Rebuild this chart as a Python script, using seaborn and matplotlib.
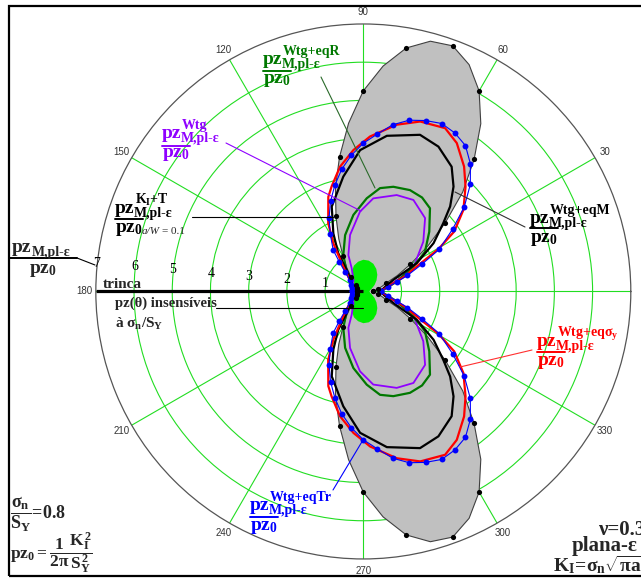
import numpy as np
import matplotlib
matplotlib.use("Agg")
import matplotlib.pyplot as plt
import seaborn as sns
from matplotlib.lines import Line2D
from matplotlib.patches import Rectangle

# ---------------- data (upper half, angle in degrees, radius in pz0 units) -------------
# K_I+T, a/W = 0.1  (grey filled zone, black dots every 10 deg)
th_kt = [0, 5, 10, 15, 20, 25, 30, 35, 40, 45, 50, 55, 60, 65, 70, 75, 80, 85, 90,
         95, 100, 105, 110, 115, 120, 125, 130, 135, 140, 145, 150, 155, 160, 165, 170, 175, 180]
r_kt = [0.26, 0.32, 0.40, 0.50, 0.64, 0.98, 1.42, 2.05, 2.80, 3.68, 4.51, 5.36, 6.06, 6.55, 6.84, 6.78,
        6.47, 5.92, 5.25, 4.42, 3.58, 2.82, 2.09, 1.52, 1.06, 0.75, 0.51, 0.36, 0.26, 0.22, 0.20, 0.19,
        0.18, 0.17, 0.17, 0.17, 0.17]

# Wtg+eqTr (blue, dotted markers)
th_tr = [0, 11, 16, 20, 25, 29, 35, 40, 45, 50, 55, 60, 65, 70, 75, 80, 85, 90, 95, 100, 105,
         110, 115, 120, 126, 129, 133, 139, 150, 165, 180]
r_tr = [0.45, 0.67, 0.92, 1.23, 1.70, 2.27, 2.86, 3.45, 3.96, 4.36, 4.66, 4.79, 4.85, 4.76, 4.64,
        4.43, 4.13, 3.88, 3.58, 3.25, 2.88, 2.51, 2.12, 1.73, 1.34, 1.00, 0.71, 0.46, 0.36, 0.32, 0.30]

# Wtg+eq sigma_y (red)
th_sy = [0, 10, 20, 26, 29.4, 33.4, 39.2, 45.7, 51.1, 57.8, 63.4, 71.5, 78.7, 87.5, 94, 100.6,
         106.8, 110.3, 117.2, 121.9, 128.9, 140, 160, 180]
r_sy = [0.45, 0.62, 1.15, 1.65, 2.25, 2.85, 3.38, 3.83, 4.20, 4.59, 4.78, 4.69, 4.45, 4.06, 3.71,
        3.32, 2.87, 2.64, 2.01, 1.49, 0.84, 0.45, 0.33, 0.30]

# Wtg+eqM (black)
th_m = [0, 10, 21, 27.8, 34.5, 40.5, 44.4, 49.3, 54.7, 62.6, 70.1, 81.4, 91.3, 99.9, 110.4,
        117.3, 123.2, 127.7, 140, 160, 180]
r_m = [0.45, 0.55, 0.84, 1.58, 2.23, 2.75, 3.18, 3.62, 4.00, 4.27, 4.36, 4.12, 3.70, 3.05, 2.37,
       1.71, 1.20, 0.71, 0.40, 0.32, 0.30]

# Wtg+eqR (dark green)
th_r = [0, 8, 16.4, 26.4, 32.8, 42.2, 51.3, 58, 65.3, 74, 80.8, 87.9, 97.4, 107.9, 118.7, 130,
        145, 165, 180]
r_r = [0.45, 0.60, 0.91, 1.46, 1.92, 2.33, 2.79, 2.90, 2.92, 2.85, 2.74, 2.44, 2.02, 1.55, 1.09,
       0.68, 0.40, 0.30, 0.28]

# Wtg (purple)
th_w = [0, 11.6, 19.8, 28.6, 39.7, 49.9, 61.3, 70.9, 83.9, 92.4, 103.2, 112.3, 116.6, 130, 160, 180]
r_w = [0.40, 0.63, 1.02, 1.54, 2.04, 2.51, 2.73, 2.67, 2.45, 2.09, 1.52, 1.03, 0.68, 0.40, 0.30, 0.28]

# pz(theta) insensitive to sigma_n/S_Y (light green zone)
th_ins = [0, 10, 20, 30, 40, 50, 60, 70, 80, 90, 100, 110, 120, 130, 140, 150, 160, 170, 180]
r_ins = [0.16, 0.18, 0.24, 0.34, 0.45, 0.57, 0.68, 0.77, 0.82, 0.83, 0.79, 0.72, 0.60, 0.47,
         0.33, 0.20, 0.09, 0.02, 0.0]

theta_ticks = [0, 30, 60, 90, 120, 150, 180, 210, 240, 270, 300, 330]
theta_labels = ["", "30", "60", "90", "120", "150", "180", "210", "240", "270", "300", "330"]
r_ticks = [1, 2, 3, 4, 5, 6, 7]
r_max = 7

# ---------------- helpers ----------------
W, H = 641, 579


def closed(th, r):
    th = np.asarray(th, float)
    r = np.asarray(r, float)
    t = np.deg2rad(np.r_[th, 360.0 - th[::-1]])
    return t, np.r_[r, r[::-1]]


def px(x, y):
    return (x / W, 1 - y / H)


sns.set_theme(style="white")
plt.rcParams.update({
    "font.family": ["Liberation Serif", "DejaVu Serif"],
    "mathtext.fontset": "custom",
    "mathtext.rm": "Liberation Serif:bold",
    "mathtext.it": "Liberation Serif:bold",
    "mathtext.bf": "Liberation Serif:bold",
    "mathtext.sf": "Liberation Sans",
})

fig = plt.figure(figsize=(W / 100, H / 100), dpi=100)
fig.patch.set_facecolor("white")
ax = fig.add_axes([0.1495, 0.0346, 0.8346, 0.9240], projection="polar")
ax.set_facecolor("white")

GRID = "#22dd22"

# grey K_I+T zone
t, rr = closed(th_kt, r_kt)
ax.fill(t, rr, color="#c0c0c0", zorder=1, lw=0)
sns.lineplot(x=t, y=rr, sort=False, estimator=None, color="#404040", lw=0.8, ax=ax, zorder=2.1)
tm, rm_ = closed(th_kt[::2], r_kt[::2])
sns.scatterplot(x=tm, y=rm_, color="black", s=14, edgecolor=None, linewidth=0, ax=ax, zorder=4)

# insensitive zone
t, rr = closed(th_ins, r_ins)
ax.fill(t, rr, color="#00ee00", zorder=2.2, lw=0)

# crack
ax.plot([np.pi, np.pi], [0, r_max], color="black", lw=2.3, zorder=2.5, solid_capstyle="butt")

for th, r, col, lw, z in [(th_w, r_w, "#8f00ff", 1.3, 3.0),
                          (th_r, r_r, "#007800", 1.6, 3.0),
                          (th_m, r_m, "black", 1.6, 3.1),
                          (th_sy, r_sy, "#ff0000", 1.6, 3.2),
                          (th_tr, r_tr, "#0000ff", 0.8, 3.3)]:
    t, rr = closed(th, r)
    sns.lineplot(x=t, y=rr, sort=False, estimator=None, color=col, lw=lw, ax=ax, zorder=z)

t, rr = closed(th_tr, r_tr)
sns.scatterplot(x=t, y=rr, color="#0000ff", s=18, edgecolor=None, linewidth=0, ax=ax, zorder=3.6)

# axes styling
ax.set_rlim(0, r_max)
ax.set_rticks(r_ticks[:-1])
ax.set_yticklabels([])
ax.set_thetagrids(theta_ticks, theta_labels, fontsize=7, family="Liberation Sans", color="#333333")
ax.tick_params(axis="x", pad=-4.5)
ax.grid(True, color=GRID, lw=0.8)
ax.spines["polar"].set_color("#555555")
ax.spines["polar"].set_linewidth(0.9)
ax.set_xlabel("")
ax.set_ylabel("")

for k in r_ticks:
    ax.annotate(str(k), xy=(np.deg2rad(175), k), xytext=(0, 3.6), textcoords="offset points",
                ha="center", va="center", fontsize=10, color="black", zorder=6)

# ---------------- annotations ----------------
SUB = "M,pl-\u03b5"


def line_px(x0, y0, x1, y1, color, lw=0.8):
    fig.add_artist(Line2D([x0 / W, x1 / W], [1 - y0 / H, 1 - y1 / H], color=color, lw=lw,
                          transform=fig.transFigure))


def txt(x, y, s, **kw):
    kw.setdefault("ha", "left")
    kw.setdefault("va", "baseline")
    return fig.text(*px(x, y), s, **kw)


def frac_label(x, yn, yb, yd, blen, sup, color, fs=14, sfs=10):
    txt(x, yn, "pz", fontsize=fs, fontweight="bold", color=color)
    txt(x + 20, yn - 9, sup, fontsize=sfs, fontweight="bold", color=color)
    txt(x + 19, yn + 4, SUB, fontsize=sfs, fontweight="bold", color=color)
    line_px(x, yb, x + blen, yb, color, lw=1.4)
    txt(x, yd, r"$pz_{0}$", fontsize=fs, color=color)


# green eqR
frac_label(263, 64, 71, 83, 28, "Wtg+eqR", "#007800")
line_px(321, 77, 375, 188, "#2a6a2a")
# purple Wtg
frac_label(162, 138, 146, 157, 28, "Wtg", "#8f00ff")
line_px(226, 143, 361, 211, "#8f00ff")
# K_I+T
frac_label(115, 213, 219, 232, 28, r"$K_I$+T", "black")
txt(142, 234, "a/W", style="italic", fontsize=8)
txt(162, 234, "= 0.1", fontsize=8)
line_px(192, 217, 333, 217, "black")
# eqM
frac_label(530, 223, 228, 242, 28, "Wtg+eqM", "black")
line_px(525, 227, 455, 192, "#333333")
# red eq sigma_y
frac_label(537, 346, 352, 365, 28, r"Wtg+eq$\sigma_y$", "#ff0000")
line_px(532, 350, 460, 367, "#ff3030")
# blue eqTr
frac_label(250, 510, 517, 530, 28, "Wtg+eqTr", "#0000ff")
line_px(333, 490, 363, 440, "#0000ff")

# radial axis label
txt(12, 252, "pz", fontsize=14, fontweight="bold")
txt(32, 256, SUB, fontsize=10, fontweight="bold")
line_px(10, 258, 77, 258, "black", lw=1.4)
txt(43, 273, r"$pz_{0}$", fontsize=14, ha="center")
line_px(77, 258, 95, 265, "black")

txt(103, 288, "trinca", fontsize=11, fontweight="bold")
txt(115, 307, "pz(\u03b8) insens\u00edveis", fontsize=10.5, fontweight="bold")
line_px(216, 308, 363, 308, "black")
txt(115, 328, "\u00e0 " + r"$\sigma_{n}/S_{Y}$", fontsize=11, fontweight="bold")

txt(10, 514, r"$\dfrac{\sigma_{n}}{S_{Y}}$=0.8", fontsize=13, fontweight="bold", va="center")
txt(10, 553, r"$pz_{0}=\dfrac{1}{2\pi}\dfrac{K_I^2}{S_Y^2}$", fontsize=12.5, va="center")

txt(598, 535, "\u03bd=0.3", fontsize=15, fontweight="bold")
txt(572, 551, "plana-\u03b5", fontsize=15, fontweight="bold")
txt(553, 571, r"$K_I\!=\!\sigma_n\sqrt{\pi a}$", fontsize=14)

# frame
fig.add_artist(Rectangle(px(9, 576), (660 - 9) / W, (576 - 6) / H, transform=fig.transFigure,
                         fill=False, ec="black", lw=1.6))

fig.savefig("out.png", dpi=100)
